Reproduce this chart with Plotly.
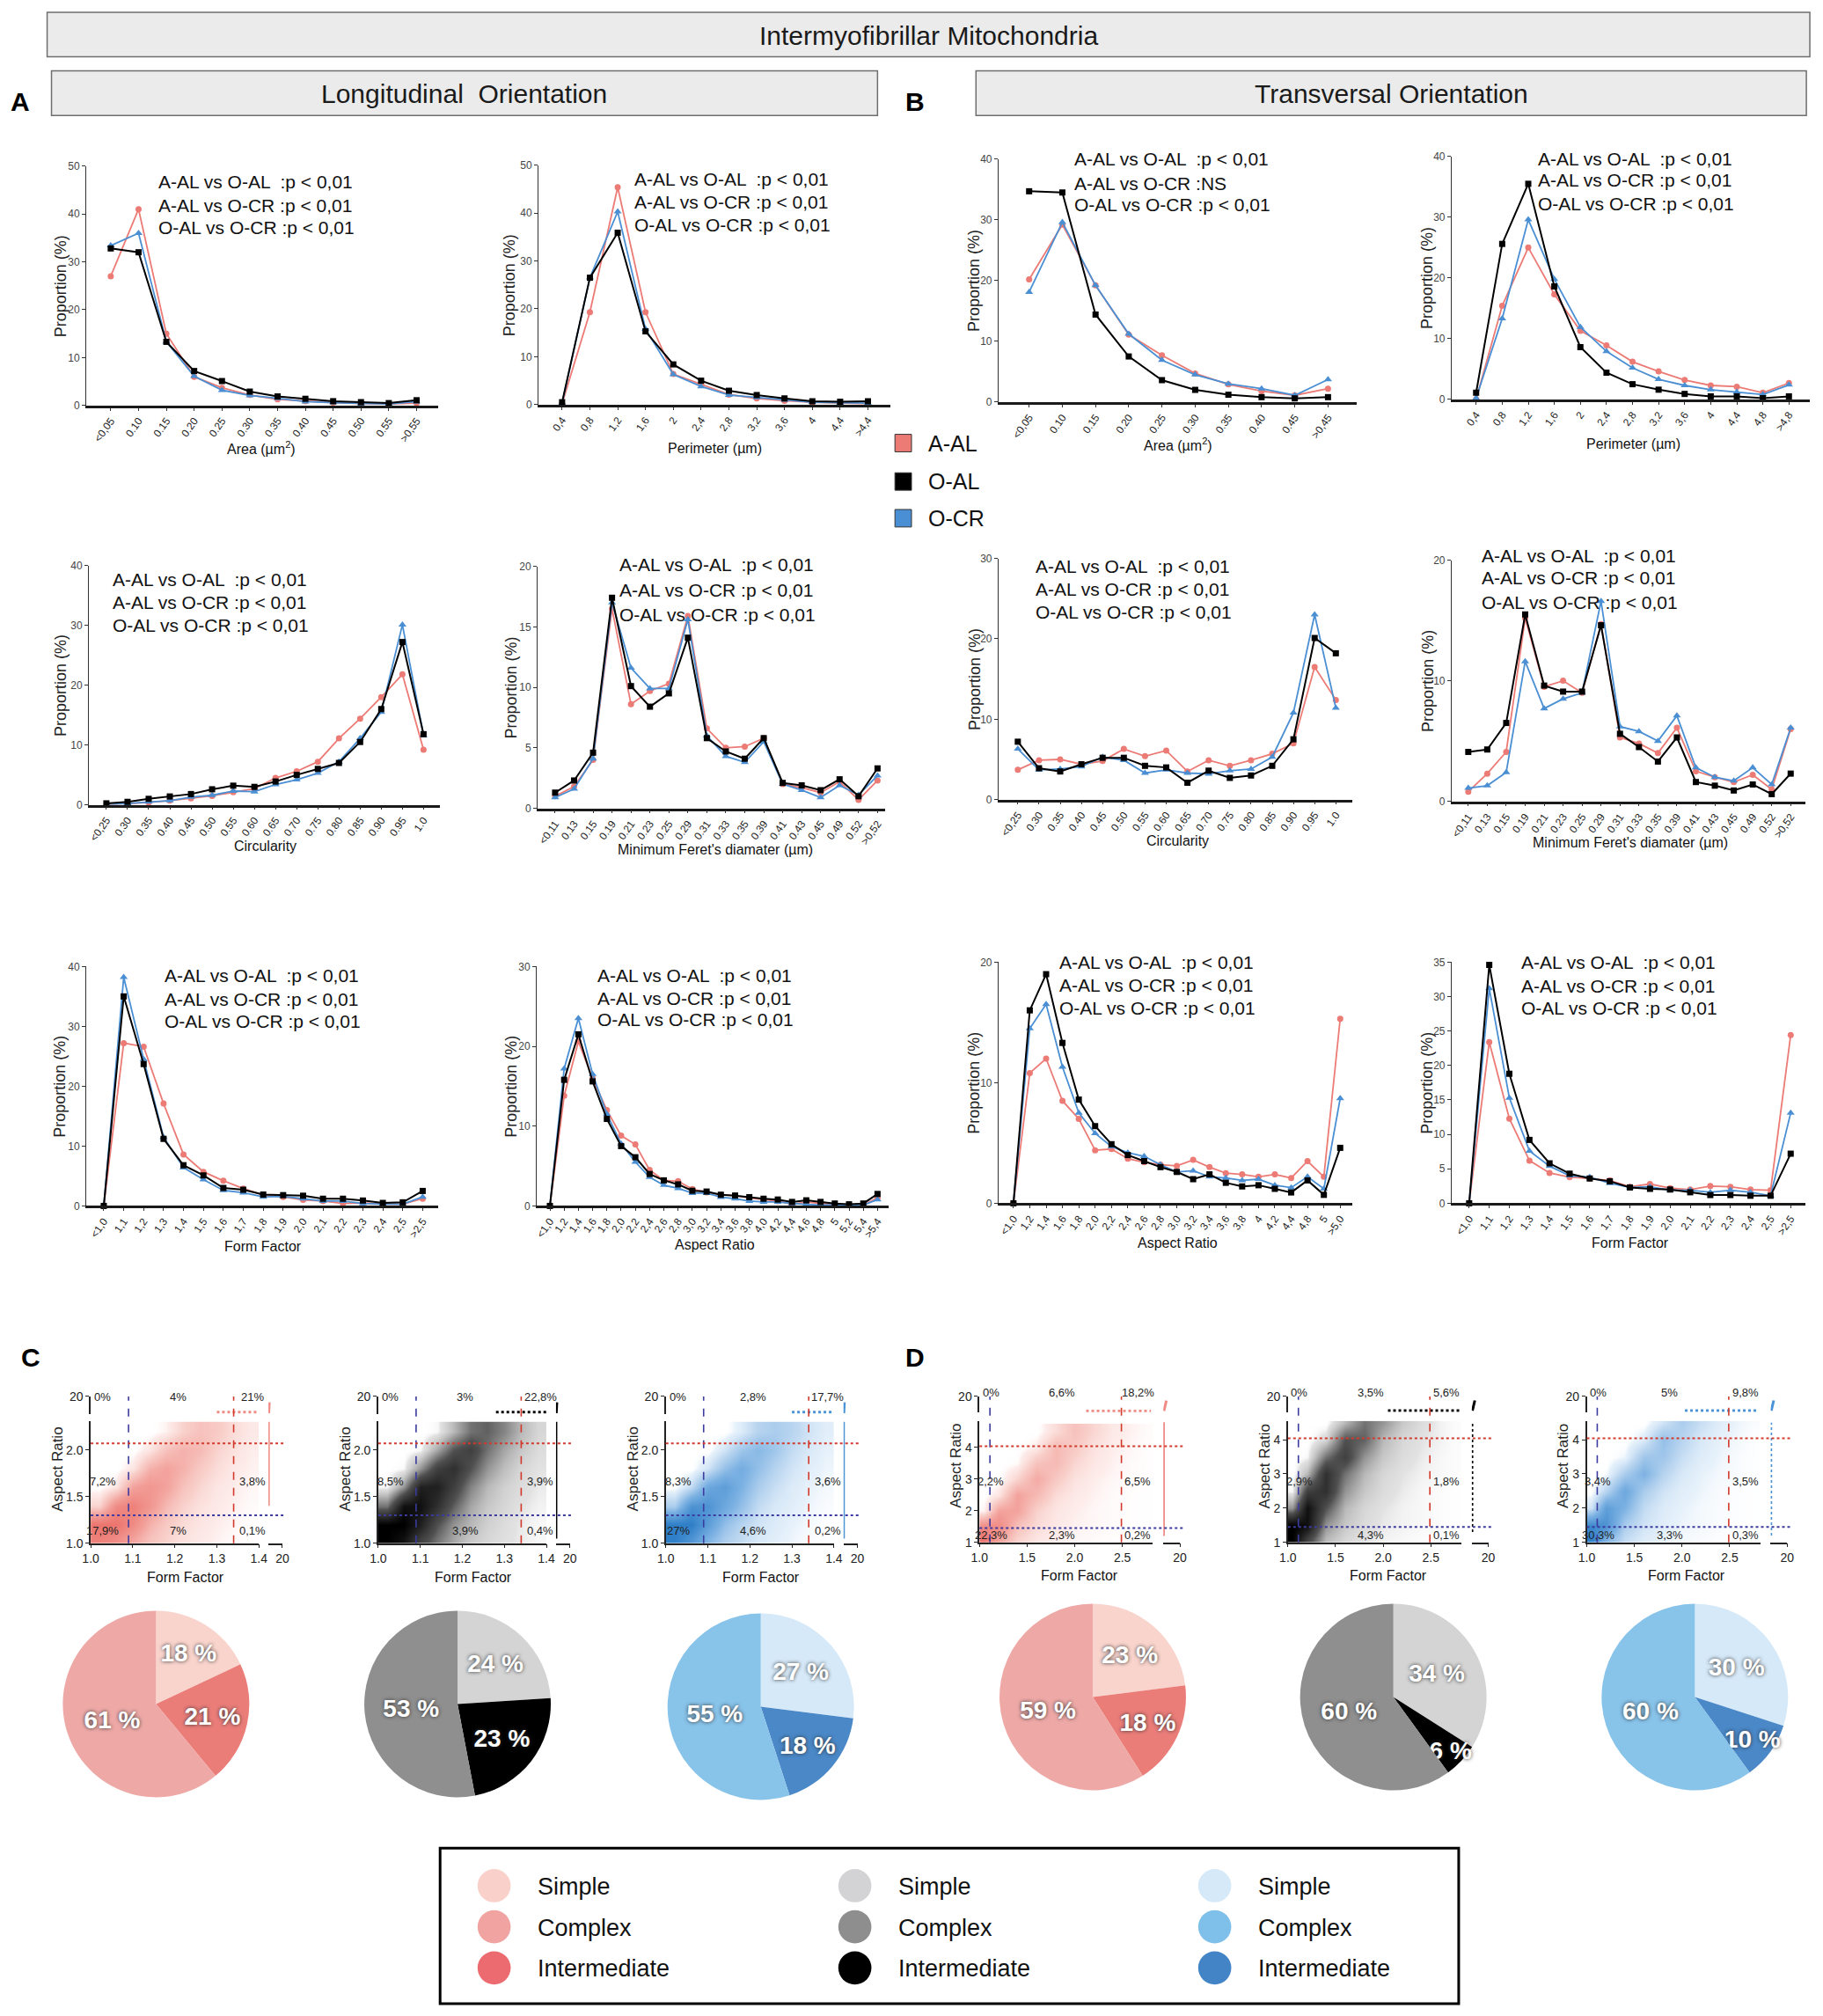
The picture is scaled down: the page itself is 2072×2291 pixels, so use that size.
import plotly.graph_objects as go

W, H = 2072, 2291
FONT = "Liberation Sans, Arial, Helvetica, sans-serif"
RED, BLACK, BLUE = "#ec7a75", "#000000", "#4a8fd3"
GROUPS = ["A-AL", "O-AL", "O-CR"]
COMPARISONS = ["A-AL vs O-AL  :", "A-AL vs O-CR :", "O-AL vs O-CR :"]

# ---------------- distributions (proportion %) ----------------
area_long_cats = ["<0,05", "0.10", "0.15", "0.20", "0.25", "0.30", "0.35", "0.40", "0.45", "0.50", "0.55", ">0,55"]
area_long_aal = [27.0, 41.0, 15.0, 6.0, 3.7, 2.2, 1.3, 0.9, 0.6, 0.4, 0.3, 0.5]
area_long_oal = [32.8, 32.0, 13.3, 7.2, 5.1, 2.9, 1.9, 1.4, 0.9, 0.7, 0.5, 1.1]
area_long_ocr = [33.4, 36.0, 13.3, 6.1, 3.2, 2.1, 1.5, 0.8, 0.6, 0.4, 0.3, 0.8]
area_long_stats = ["p &lt; 0,01", "p &lt; 0,01", "p &lt; 0,01"]

perim_long_cats = ["0,4", "0,8", "1,2", "1,6", "2", "2,4", "2,8", "3,2", "3,6", "4", "4,4", ">4,4"]
perim_long_aal = [0.2, 19.3, 45.4, 19.3, 6.4, 4.3, 2.1, 1.3, 0.8, 0.5, 0.3, 0.2]
perim_long_oal = [0.5, 26.5, 35.9, 15.3, 8.4, 5.0, 2.9, 2.0, 1.3, 0.7, 0.6, 0.7]
perim_long_ocr = [0.3, 26.5, 40.3, 15.8, 6.3, 3.8, 2.0, 1.5, 1.0, 0.5, 0.4, 0.3]
perim_long_stats = ["p &lt; 0,01", "p &lt; 0,01", "p &lt; 0,01"]

area_trans_cats = ["<0,05", "0.10", "0.15", "0.20", "0.25", "0.30", "0.35", "0.40", "0.45", ">0,45"]
area_trans_aal = [20.2, 29.2, 19.2, 11.1, 7.7, 4.7, 2.9, 1.8, 1.1, 2.2]
area_trans_oal = [34.7, 34.5, 14.4, 7.5, 3.6, 2.0, 1.2, 0.8, 0.6, 0.8]
area_trans_ocr = [18.1, 29.6, 19.2, 11.2, 6.9, 4.5, 3.0, 2.2, 1.1, 3.7]
area_trans_stats = ["p &lt; 0,01", "NS", "p &lt; 0,01"]

perim_trans_cats = ["0,4", "0,8", "1,2", "1,6", "2", "2,4", "2,8", "3,2", "3,6", "4", "4,4", "4,8", ">4,8"]
perim_trans_aal = [0.0, 15.4, 25.0, 17.3, 11.3, 8.9, 6.2, 4.6, 3.2, 2.3, 2.1, 1.1, 2.7]
perim_trans_oal = [1.1, 25.6, 35.5, 18.6, 8.6, 4.4, 2.5, 1.6, 0.9, 0.5, 0.5, 0.2, 0.5]
perim_trans_ocr = [0.2, 13.3, 29.6, 19.8, 11.9, 7.9, 5.2, 3.3, 2.3, 1.6, 1.2, 0.8, 2.4]
perim_trans_stats = ["p &lt; 0,01", "p &lt; 0,01", "p &lt; 0,01"]

circ_cats = ["<0,25", "0.30", "0.35", "0.40", "0.45", "0.50", "0.55", "0.60", "0.65", "0.70",
             "0.75", "0.80", "0.85", "0.90", "0.95", "1.0"]
circ_long_aal = [0.0, 0.15, 0.4, 0.7, 1.1, 1.5, 2.1, 2.7, 4.5, 5.6, 7.2, 11.1, 14.4, 18.0, 21.8, 9.2]
circ_long_oal = [0.25, 0.5, 1.0, 1.4, 1.8, 2.6, 3.2, 3.0, 3.9, 5.0, 6.0, 7.0, 10.5, 16.0, 27.2, 11.8]
circ_long_ocr = [0.0, 0.25, 0.5, 0.7, 1.3, 1.6, 2.3, 2.2, 3.4, 4.2, 5.3, 7.2, 11.1, 15.5, 30.1, 11.6]
circ_long_stats = ["p &lt; 0,01", "p &lt; 0,01", "p &lt; 0,01"]

circ_trans_aal = [3.7, 4.9, 5.0, 4.4, 4.8, 6.3, 5.4, 6.1, 3.5, 4.9, 4.2, 4.9, 5.7, 7.0, 16.5, 12.4]
circ_trans_oal = [7.2, 3.9, 3.5, 4.4, 5.2, 5.2, 4.2, 4.0, 2.1, 3.6, 2.7, 3.0, 4.2, 7.5, 20.1, 18.2]
circ_trans_ocr = [6.3, 3.7, 3.8, 4.1, 5.3, 4.9, 3.3, 3.7, 3.3, 3.2, 3.6, 3.8, 5.3, 10.8, 23.0, 11.4]
circ_trans_stats = ["p &lt; 0,01", "p &lt; 0,01", "p &lt; 0,01"]

feret_cats = ["<0,11", "0.13", "0.15", "0.19", "0.21", "0.23", "0.25", "0.29", "0.31", "0.33",
              "0.35", "0.39", "0.41", "0.43", "0.45", "0.49", "0.52", ">0,52"]
feret_long_aal = [1.0, 1.8, 4.0, 16.5, 8.6, 9.7, 10.3, 15.9, 6.6, 5.0, 5.1, 5.8, 2.0, 1.7, 1.3, 2.2, 0.7, 2.3]
feret_long_oal = [1.3, 2.3, 4.6, 17.4, 10.1, 8.4, 9.5, 14.1, 5.8, 4.7, 4.1, 5.8, 2.1, 1.9, 1.5, 2.4, 1.0, 3.3]
feret_long_ocr = [0.9, 1.6, 4.1, 17.0, 11.6, 9.9, 9.9, 15.6, 6.0, 4.3, 3.8, 5.5, 2.0, 1.5, 0.9, 1.9, 1.1, 2.7]
feret_long_stats = ["p &lt; 0,01", "p &lt; 0,01", "p &lt; 0,01"]

feret_trans_aal = [0.8, 2.3, 4.1, 15.2, 9.5, 10.0, 9.0, 14.7, 5.3, 4.8, 4.0, 6.1, 2.5, 2.0, 1.6, 2.2, 1.0, 6.0]
feret_trans_oal = [4.1, 4.3, 6.5, 15.5, 9.6, 9.1, 9.1, 14.6, 5.6, 4.5, 3.3, 5.3, 1.6, 1.3, 0.9, 1.4, 0.6, 2.3]
feret_trans_ocr = [1.1, 1.3, 2.4, 11.6, 7.7, 8.5, 9.0, 16.6, 6.2, 5.8, 5.0, 7.1, 2.8, 2.0, 1.7, 2.8, 1.4, 6.1]
feret_trans_stats = ["p &lt; 0,01", "p &lt; 0,01", "p &lt; 0,01"]

ff_cats = ["<1,0", "1,1", "1,2", "1,3", "1,4", "1,5", "1,6", "1,7", "1,8", "1,9", "2,0", "2,1",
           "2,2", "2,3", "2,4", "2,5", ">2,5"]
ff_long_aal = [0, 27.2, 26.6, 17.1, 8.6, 5.7, 4.2, 2.9, 1.8, 1.5, 1.0, 0.8, 0.4, 0.5, 0.3, 0.3, 1.2]
ff_long_oal = [0, 35.0, 23.7, 11.2, 6.8, 5.1, 3.0, 2.7, 1.9, 1.8, 1.7, 1.2, 1.2, 0.9, 0.5, 0.6, 2.5]
ff_long_ocr = [0, 38.2, 24.5, 11.5, 6.4, 4.4, 2.6, 2.2, 1.5, 1.6, 1.2, 0.8, 0.8, 0.4, 0.3, 0.3, 1.5]
ff_long_stats = ["p &lt; 0,01", "p &lt; 0,01", "p &lt; 0,01"]

ff_trans_aal = [0, 23.4, 12.3, 6.2, 4.4, 3.8, 3.6, 3.3, 2.4, 2.8, 2.2, 2.0, 2.5, 2.4, 2.0, 1.9, 24.4]
ff_trans_oal = [0, 34.6, 18.8, 9.2, 5.8, 4.3, 3.6, 3.2, 2.3, 2.1, 2.0, 1.6, 1.2, 1.2, 1.1, 1.1, 7.2]
ff_trans_ocr = [0, 31.2, 15.3, 7.6, 5.4, 4.0, 3.8, 2.9, 2.3, 2.4, 1.9, 1.9, 1.6, 1.9, 1.6, 1.1, 13.1]
ff_trans_stats = ["p &lt; 0,01", "p &lt; 0,01", "p &lt; 0,01"]

ar_long_cats = ["<1,0", "1,2", "1,4", "1,6", "1,8", "2,0", "2,2", "2,4", "2,6", "2,8", "3,0", "3,2",
                "3,4", "3,6", "3,8", "4,0", "4,2", "4,4", "4,6", "4,8", "5", "5,2", "5,4", ">5,4"]
ar_long_aal = [0, 13.8, 20.6, 16.0, 12.0, 8.8, 7.7, 4.5, 3.2, 3.1, 2.1, 1.7, 1.4, 1.3, 1.0, 0.8,
               0.6, 0.2, 0.5, 0.3, 0.2, 0.1, 0.1, 1.0]
ar_long_oal = [0, 15.8, 21.5, 15.6, 10.9, 7.5, 6.1, 4.0, 3.2, 2.7, 1.9, 1.8, 1.4, 1.3, 1.1, 0.9,
               0.8, 0.5, 0.7, 0.5, 0.3, 0.2, 0.3, 1.5]
ar_long_ocr = [0, 17.2, 23.5, 16.5, 11.5, 7.8, 5.5, 3.6, 2.6, 2.2, 1.6, 1.6, 1.1, 0.9, 0.6, 0.5,
               0.5, 0.3, 0.2, 0.1, 0.1, 0.1, 0.1, 0.8]
ar_long_stats = ["p &lt; 0,01", "p &lt; 0,01", "p &lt; 0,01"]

ar_trans_cats = ["<1,0", "1,2", "1,4", "1,6", "1,8", "2,0", "2,2", "2,4", "2,6", "2,8", "3,0",
                 "3,2", "3,4", "3,6", "3,8", "4", "4,2", "4,4", "4,8", "5", ">5,0"]
ar_trans_aal = [0, 10.8, 12.0, 8.5, 7.0, 4.4, 4.5, 3.7, 3.4, 3.2, 3.1, 3.6, 3.0, 2.5, 2.4, 2.2,
                2.4, 2.1, 3.5, 2.2, 15.3]
ar_trans_oal = [0, 16.0, 19.0, 13.3, 8.6, 6.4, 4.9, 4.0, 3.5, 3.0, 2.6, 2.0, 2.4, 1.7, 1.4, 1.5,
                1.2, 0.9, 1.9, 0.7, 4.6]
ar_trans_ocr = [0, 14.5, 16.5, 11.3, 7.5, 5.8, 4.7, 4.2, 3.9, 3.2, 2.6, 2.7, 2.2, 2.1, 1.9, 2.0,
                1.5, 1.3, 2.2, 1.2, 8.7]
ar_trans_stats = ["p &lt; 0,01", "p &lt; 0,01", "p &lt; 0,01"]

c_ff_centers = [1.02, 1.06, 1.10, 1.14, 1.18, 1.22, 1.26, 1.30, 1.34, 1.38]
c_ar_centers = [1.05, 1.2, 1.4, 1.6, 1.8, 2.0, 2.2]
c_aal_density = [
    [8, 7, 5, 3, 2, 1.2, 0.8, 0.5, 0.3, 0.2],
    [9, 9, 7, 4, 2.5, 1.5, 1, 0.6, 0.4, 0.2],
    [2, 7, 8, 6, 3.5, 2, 1.2, 0.8, 0.5, 0.3],
    [0, 1, 5, 6, 5, 3, 1.8, 1, 0.6, 0.4],
    [0, 0, 1, 4, 5, 4, 2.5, 1.5, 0.8, 0.5],
    [0, 0, 0, 1, 3, 4, 3.5, 2, 1.2, 0.6],
    [0, 0, 0, 0, 0.5, 2, 3, 2.5, 1.5, 0.8],
]
c_oal_density = [
    [10, 9, 6, 4, 2.5, 1.5, 1, 0.7, 0.5, 0.3],
    [10, 10, 8, 5, 3, 2, 1.2, 0.8, 0.5, 0.3],
    [4, 9, 9, 7, 4.5, 2.5, 1.5, 1, 0.6, 0.4],
    [0.3, 3, 8, 8, 6, 3.5, 2, 1.2, 0.8, 0.5],
    [0, 0.3, 3, 6, 7, 5, 3, 1.8, 1, 0.6],
    [0, 0, 0.3, 2.5, 5, 6, 4, 2.5, 1.5, 0.8],
    [0, 0, 0, 0.3, 2, 4, 4.5, 3.5, 2, 1],
]
c_ocr_density = [
    [10, 8, 5, 3, 2, 1.2, 0.8, 0.5, 0.3, 0.2],
    [10, 10, 7, 4, 2.5, 1.5, 1, 0.6, 0.4, 0.2],
    [3, 8, 8, 6, 4, 2, 1.2, 0.8, 0.5, 0.3],
    [0, 2, 6, 7, 5, 3, 1.8, 1, 0.6, 0.4],
    [0, 0, 1.5, 4, 5.5, 4, 2.5, 1.5, 0.8, 0.5],
    [0, 0, 0, 1.5, 3.5, 4.5, 3.5, 2, 1.2, 0.6],
    [0, 0, 0, 0, 1, 2.5, 3, 2.5, 1.5, 0.8],
]
d_ff_centers = [1.05, 1.2, 1.4, 1.6, 1.8, 2.0, 2.2, 2.4, 2.6, 2.75]
d_ar_centers = [1.1, 1.5, 2.0, 2.5, 3.0, 3.5, 4.0, 4.5]
d_aal_density = [
    [9, 5, 2, 1, 0.6, 0.4, 0.3, 0.2, 0.2, 0.1],
    [7, 7, 3, 1.5, 0.8, 0.5, 0.4, 0.3, 0.2, 0.1],
    [0.5, 5, 5, 2, 1, 0.6, 0.4, 0.3, 0.2, 0.1],
    [0, 1, 5, 3.5, 1.5, 0.8, 0.5, 0.3, 0.2, 0.1],
    [0, 0, 2, 4.5, 2.5, 1.2, 0.6, 0.4, 0.3, 0.2],
    [0, 0, 0.3, 3, 3.5, 1.8, 0.9, 0.5, 0.3, 0.2],
    [0, 0, 0, 0.8, 3.5, 2.5, 1.2, 0.6, 0.4, 0.2],
    [0, 0, 0, 0, 1.5, 3, 1.8, 0.8, 0.5, 0.3],
]
d_oal_density = [
    [10, 6, 2, 1, 0.6, 0.4, 0.3, 0.2, 0.2, 0.1],
    [10, 9, 3, 1.5, 0.8, 0.5, 0.4, 0.3, 0.2, 0.1],
    [3, 9, 5, 2, 1, 0.6, 0.4, 0.3, 0.2, 0.1],
    [0.3, 6, 7, 3, 1.5, 0.8, 0.5, 0.3, 0.2, 0.1],
    [0, 2, 7, 4, 2, 1, 0.6, 0.4, 0.3, 0.2],
    [0, 0.3, 4, 6, 3, 1.5, 0.8, 0.5, 0.3, 0.2],
    [0, 0, 1, 5, 4.5, 2, 1, 0.6, 0.4, 0.2],
    [0, 0, 0, 2, 4, 3, 1.5, 0.8, 0.4, 0.2],
]
d_ocr_density = [
    [10, 5, 2, 1, 0.6, 0.4, 0.3, 0.2, 0.2, 0.1],
    [9, 8, 3, 1.5, 0.8, 0.5, 0.4, 0.3, 0.2, 0.1],
    [1.5, 7, 5, 2, 1, 0.6, 0.4, 0.3, 0.2, 0.1],
    [0, 2.5, 6, 3, 1.5, 0.8, 0.5, 0.3, 0.2, 0.1],
    [0, 0.3, 3, 5, 2.5, 1.2, 0.6, 0.4, 0.3, 0.2],
    [0, 0, 0.5, 3.5, 3.5, 1.8, 0.9, 0.5, 0.3, 0.2],
    [0, 0, 0, 1, 4, 2.5, 1.2, 0.6, 0.4, 0.2],
    [0, 0, 0, 0, 1.5, 3, 1.8, 0.8, 0.5, 0.3],
]
# points beyond the axis breaks: top row (FF span, AR), right column (FF, AR span), corner
c_top_ff = [[1.30, 1.40], [1.28, 1.40], [1.30, 1.40]]
c_top_ar = 4.0
c_col_ff = 2.0
c_col_ar = [[1.4, 2.3], [1.05, 2.3], [1.05, 2.3]]
c_corner_ff = [1.8, 2.6]
c_corner_ar = [3.0, 14.0]
d_top_ff = [[2.12, 2.80], [2.05, 2.80], [2.03, 2.80]]
d_top_ar = 6.0
d_col_ff = 3.5
d_col_ar = [[1.2, 4.8], [1.3, 4.5], [1.2, 4.5]]
d_corner_ff = [3.5, 6.0]
d_corner_ar = [6.0, 16.0]
c_ff_thresholds = [1.09, 1.34]
c_ar_thresholds = [1.30, 2.07]
d_ff_thresholds = [1.11, 2.49]
d_ar_thresholds = [1.45, 4.04]
d_ar_top = [4.84, 4.55, 4.55]

# quadrant percentages: top L/M/R, middle L/R, bottom L/M/R
c_aal_pct = ["0%", "4%", "21%", "7,2%", "3,8%", "17,9%", "7%", "0,1%"]
c_oal_pct = ["0%", "3%", "22,8%", "8,5%", "3,9%", "", "3,9%", "0,4%"]
c_ocr_pct = ["0%", "2,8%", "17,7%", "8,3%", "3,6%", "27%", "4,6%", "0,2%"]
d_aal_pct = ["0%", "6,6%", "18,2%", "2,2%", "6,5%", "22,3%", "2,3%", "0,2%"]
d_oal_pct = ["0%", "3,5%", "5,6%", "2,9%", "1,8%", "", "4,3%", "0,1%"]
d_ocr_pct = ["0%", "5%", "9,8%", "3,4%", "3,5%", "30,3%", "3,3%", "0,3%"]

# ---------------- mitochondrial shape shares (%) ----------------
pie_labels = ["Simple", "Intermediate", "Complex"]
pie_c_aal = [18, 21, 61]
pie_c_oal = [24, 23, 53]
pie_c_ocr = [27, 18, 55]
pie_d_aal = [23, 18, 59]
pie_d_oal = [34, 6, 60]
pie_d_ocr = [30, 10, 60]

PIE_RED = ["#f9d4cd", "#eb7d79", "#eea9a7"]
PIE_GRAY = ["#d4d4d4", "#000000", "#8f8f8f"]
PIE_BLUE = ["#d6e9f8", "#4a88c8", "#88c3ea"]

fig = go.Figure()
axes = {}
annotations = []
shapes = []
count = {"x": 0, "y": 0}


def new_axis(letter, **props):
    count[letter] += 1
    k = count[letter]
    name = letter + ("" if k == 1 else str(k))
    axes[letter + "axis" + name[1:]] = props
    return name


def key(name):
    return name[0] + "axis" + name[1:]


def px(x):
    return x / W


def py(y):
    return 1 - y / H


def text(x, y, s, size, anchor="center", angle=0, color="#111111", yanchor="middle"):
    annotations.append(dict(x=px(x), y=py(y), xref="paper", yref="paper", text=s,
                            showarrow=False, xanchor=anchor, yanchor=yanchor, textangle=angle,
                            font=dict(family=FONT, size=size, color=color)))


def line_chart(box, cats, aal, oal, ocr, stats, stat_x, stat_ys, xtitle, xt_x, xt_y, yt_x):
    yx, first, last, end, ytop, ybot, ymax, dtick = box
    n = len(cats)
    step = (last - first) / (n - 1)
    xa = new_axis("x", domain=[px(yx), px(end)], type="category",
                  range=[-(first - yx) / step, n - 1 + (end - last) / step],
                  tickmode="array", tickvals=cats, ticktext=cats, tickangle=-55,
                  showline=True, linecolor="#1a1a1a", linewidth=2.5, ticks="outside",
                  ticklen=3, tickcolor="#333", showgrid=False, zeroline=False,
                  tickfont=dict(family=FONT, size=12, color="#222"))
    ya = new_axis("y", domain=[py(ybot), py(ytop)], range=[0, ymax], dtick=dtick,
                  showline=True, linecolor="#333", linewidth=1.2, ticks="outside",
                  ticklen=4, tickcolor="#333", showgrid=False, zeroline=False,
                  tickfont=dict(family=FONT, size=12, color="#444"))
    axes[key(xa)]["anchor"] = ya
    axes[key(ya)]["anchor"] = xa
    for vals, color, symbol, size, width in [(aal, RED, "circle", 7, 1.8),
                                              (ocr, BLUE, "triangle-up", 8, 1.8),
                                              (oal, BLACK, "square", 7, 2.0)]:
        fig.add_trace(go.Scatter(x=cats, y=vals, xaxis=xa, yaxis=ya, mode="lines+markers",
                                 line=dict(color=color, width=width),
                                 marker=dict(symbol=symbol, size=size, color=color),
                                 cliponaxis=False, showlegend=False, hoverinfo="skip"))
    for comp, st, sy in zip(COMPARISONS, stats, stat_ys):
        text(stat_x, sy, comp + st, 21, anchor="left")
    text(xt_x, xt_y, xtitle, 16)
    text(yt_x, (ytop + ybot) / 2, "Proportion (%)", 18, angle=-90, color="#222")


charts = [
    ((89, 117, 468, 493, 182, 456, 50, 10), area_long_cats, area_long_aal, area_long_oal, area_long_ocr,
     area_long_stats, 170, [200, 227, 252], "Area (µm<sup>2</sup>)", 290, 505, 59),
    ((608, 635, 986, 1012, 181, 455, 50, 10), perim_long_cats, perim_long_aal, perim_long_oal, perim_long_ocr,
     perim_long_stats, 716, [197, 223, 249], "Perimeter (µm)", 810, 505, 574),
    ((1136, 1171, 1514, 1547, 174, 452, 40, 10), area_trans_cats, area_trans_aal, area_trans_oal, area_trans_ocr,
     area_trans_stats, 1221, [174, 202, 226], "Area (µm<sup>2</sup>)", 1342, 500, 1108),
    ((1656, 1684, 2043, 2067, 171, 449, 40, 10), perim_trans_cats, perim_trans_aal, perim_trans_oal,
     perim_trans_ocr, perim_trans_stats, 1753, [174, 198, 225], "Perimeter (µm)", 1864, 500, 1628),
    ((92, 112, 476, 495, 639, 913, 40, 10), circ_cats, circ_long_aal, circ_long_oal, circ_long_ocr,
     circ_long_stats, 117, [655, 681, 707], "Circularity", 294, 960, 59),
    ((607, 627, 997, 1006, 640, 917, 20, 5), feret_cats, feret_long_aal, feret_long_oal, feret_long_ocr,
     feret_long_stats, 699, [638, 667, 695], "Minimum Feret's diamater (µm)", 811, 964, 577),
    ((1136, 1158, 1523, 1542, 631, 907, 30, 10), circ_cats, circ_trans_aal, circ_trans_oal, circ_trans_ocr,
     circ_trans_stats, 1176, [640, 666, 692], "Circularity", 1341, 954, 1108),
    ((1656, 1675, 2045, 2062, 633, 909, 20, 10), feret_cats, feret_trans_aal, feret_trans_oal, feret_trans_ocr,
     feret_trans_stats, 1688, [628, 653, 681], "Minimum Feret's diamater (µm)", 1861, 956, 1628),
    ((89, 109, 475, 493, 1098, 1372, 40, 10), ff_cats, ff_long_aal, ff_long_oal, ff_long_ocr,
     ff_long_stats, 177, [1108, 1135, 1161], "Form Factor", 292, 1418, 59),
    ((606, 621, 997, 1010, 1098, 1372, 30, 10), ar_long_cats, ar_long_aal, ar_long_oal, ar_long_ocr,
     ar_long_stats, 673, [1108, 1134, 1159], "Aspect Ratio", 810, 1416, 577),
    ((1136, 1153, 1528, 1542, 1093, 1369, 20, 10), ar_trans_cats, ar_trans_aal, ar_trans_oal, ar_trans_ocr,
     ar_trans_stats, 1204, [1093, 1119, 1145], "Aspect Ratio", 1341, 1414, 1108),
    ((1656, 1676, 2045, 2062, 1093, 1369, 35, 5), ff_cats, ff_trans_aal, ff_trans_oal, ff_trans_ocr,
     ff_trans_stats, 1734, [1093, 1120, 1145], "Form Factor", 1861, 1414, 1628),
]
for c in charts:
    line_chart(*c)

# ---------------- scatter panels with broken axes ----------------
C_GEO = dict(xa_w=193, xb=(204, 220), ya=(1758, 1618), yb=(1610, 1590), xr=[1.0, 1.4],
             xticks=[1.0, 1.1, 1.2, 1.3, 1.4], yticks=[1.0, 1.5, 2.0], yfmt=".1f",
             lab_dx=[14, 100, 186], lab_y=[1591, 1687, 1744], xt=(109, 1797), yt=(-38, 1673))
D_GEO = dict(xa_w=199, xb=(211, 230), ya=(1757, 1618), yb=(1608, 1590), xr=[1.0, 2.82],
             xticks=[1.0, 1.5, 2.0, 2.5], yticks=[1, 2, 3, 4], yfmt="d",
             lab_dx=[13, 95, 182], lab_y=[1586, 1687, 1749], xt=(115, 1795), yt=(-27, 1670))

AX = dict(showline=True, linecolor="#222", linewidth=1.5, ticks="outside", ticklen=4,
          tickcolor="#222", showgrid=False, zeroline=False,
          tickfont=dict(family=FONT, size=14, color="#222"))


def scatter_panel(x0, geo, y_top, cx, cy, dens, cscale, color, top_ff, top_ar, col_ff, col_ar,
                  corner_ff, corner_ar, ff_thr, ar_thr, pct, col_dash):
    xa = new_axis("x", domain=[px(x0), px(x0 + geo["xa_w"])], range=geo["xr"],
                  tickvals=geo["xticks"], tickformat=".1f", **AX)
    xb = new_axis("x", domain=[px(x0 + geo["xb"][0]), px(x0 + geo["xb"][1])],
                  range=[geo["xr"][1], 20], tickvals=[20], **AX)
    ya = new_axis("y", domain=[py(geo["ya"][0]), py(geo["ya"][1])], range=[1.0, y_top],
                  tickvals=geo["yticks"], tickformat=geo["yfmt"], **AX)
    yb = new_axis("y", domain=[py(geo["yb"][0]), py(geo["yb"][1])], range=[y_top, 20],
                  tickvals=[20], **AX)
    axes[key(xa)]["anchor"] = ya
    axes[key(xb)]["anchor"] = ya
    axes[key(ya)]["anchor"] = xa
    axes[key(yb)]["anchor"] = xa
    fig.add_trace(go.Heatmap(x=cx, y=cy, z=dens, xaxis=xa, yaxis=ya, zsmooth="best",
                             colorscale=cscale, zmin=0, zmax=10, showscale=False,
                             hoverinfo="skip"))
    fig.add_trace(go.Scatter(x=top_ff, y=[top_ar, top_ar], xaxis=xa, yaxis=yb, mode="lines",
                             line=dict(color=color, width=3, dash="dot"), showlegend=False,
                             hoverinfo="skip", cliponaxis=False))
    fig.add_trace(go.Scatter(x=[col_ff, col_ff], y=col_ar, xaxis=xb, yaxis=ya, mode="lines",
                             line=dict(color=color, width=2, dash=col_dash), showlegend=False,
                             hoverinfo="skip", cliponaxis=False))
    fig.add_trace(go.Scatter(x=corner_ff, y=corner_ar, xaxis=xb, yaxis=yb, mode="lines",
                             line=dict(color=color, width=3), showlegend=False,
                             hoverinfo="skip", cliponaxis=False))
    y_lo, y_hi = py(geo["ya"][0]), py(geo["yb"][1])
    for thr, col in [(ff_thr[0], "#3b3ba0"), (ff_thr[1], "#d23a2c")]:
        shapes.append(dict(type="line", xref=xa, yref="paper", x0=thr, x1=thr, y0=y_lo, y1=y_hi,
                           line=dict(color=col, width=1.6, dash="dash")))
    for thr, col in [(ar_thr[0], "#3b3ba0"), (ar_thr[1], "#d23a2c")]:
        shapes.append(dict(type="line", xref="paper", yref=ya, x0=px(x0), x1=px(x0 + geo["xb"][1] + 4),
                           y0=thr, y1=thr, line=dict(color=col, width=2, dash="dot")))
    dx, ly = geo["lab_dx"], geo["lab_y"]
    spots = [(dx[0], ly[0]), (dx[1], ly[0]), (dx[2], ly[0]), (dx[0], ly[1]), (dx[2], ly[1]),
             (dx[0], ly[2]), (dx[1], ly[2]), (dx[2], ly[2])]
    for s, (ox, oy) in zip(pct, spots):
        if s:
            text(x0 + ox, oy, s, 13, color="#222")
    text(x0 + geo["xt"][0], geo["xt"][1], "Form Factor", 16)
    text(x0 + geo["yt"][0], geo["yt"][1], "Aspect Ratio", 17, angle=-90, color="#222")


RED_SCALE = [[0, "rgba(255,255,255,0)"], [0.06, "rgba(250,214,210,0.45)"], [0.2, "#f9d2cd"],
             [0.5, "#f3a29c"], [1, "#ea6a63"]]
GRAY_SCALE = [[0, "rgba(255,255,255,0)"], [0.06, "rgba(190,190,190,0.45)"], [0.2, "#b8b8b8"],
              [0.5, "#505050"], [1, "#000000"]]
BLUE_SCALE = [[0, "rgba(255,255,255,0)"], [0.06, "rgba(200,224,245,0.45)"], [0.2, "#c3dbf2"],
              [0.5, "#7db2e3"], [1, "#2f7fc8"]]

c_sets = [(94, c_aal_density, RED_SCALE, "#ef8a85", c_aal_pct, "solid"),
          (424, c_oal_density, GRAY_SCALE, "#000000", c_oal_pct, "solid"),
          (754, c_ocr_density, BLUE_SCALE, "#4a93d6", c_ocr_pct, "solid")]
for i, (x0, dens, cs, col, pct, cd) in enumerate(c_sets):
    scatter_panel(x0, C_GEO, 2.31, c_ff_centers, c_ar_centers, dens, cs, col, c_top_ff[i], c_top_ar,
                  c_col_ff, c_col_ar[i], c_corner_ff, c_corner_ar, c_ff_thresholds,
                  c_ar_thresholds, pct, cd)

d_sets = [(1114, d_aal_density, RED_SCALE, "#ef8a85", d_aal_pct, "solid"),
          (1468, d_oal_density, GRAY_SCALE, "#000000", d_oal_pct, "dot"),
          (1811, d_ocr_density, BLUE_SCALE, "#4a93d6", d_ocr_pct, "dot")]
for i, (x0, dens, cs, col, pct, cd) in enumerate(d_sets):
    scatter_panel(x0, D_GEO, d_ar_top[i], d_ff_centers, d_ar_centers, dens, cs, col, d_top_ff[i],
                  d_top_ar, d_col_ff, d_col_ar[i], d_corner_ff, d_corner_ar, d_ff_thresholds,
                  d_ar_thresholds, pct, cd)

# ---------------- pies ----------------
pies = [(pie_c_aal, PIE_RED, 169, 1942), (pie_c_oal, PIE_GRAY, 515, 1942),
        (pie_c_ocr, PIE_BLUE, 863, 1945), (pie_d_aal, PIE_RED, 1244, 1934),
        (pie_d_oal, PIE_GRAY, 1589, 1934), (pie_d_ocr, PIE_BLUE, 1935, 1934)]
R = 107
for vals, cols, cx, cy in pies:
    fig.add_trace(go.Pie(labels=pie_labels, values=vals, sort=False, direction="clockwise",
                         rotation=0, marker=dict(colors=cols, line=dict(width=0)),
                         domain=dict(x=[px(cx - R), px(cx + R)], y=[py(cy + R), py(cy - R)]),
                         texttemplate="<b>%{value} %</b>", textposition="inside",
                         insidetextorientation="horizontal",
                         textfont=dict(family=FONT, size=28, color="white",
                                       shadow="0px 0px 4px #333"),
                         showlegend=False, hoverinfo="skip"))

# ---------------- headers, panel letters, legends ----------------
for (x0, y0, x1, y1, label, size) in [(44, 6, 2067, 57, "Intermyofibrillar Mitochondria", 30),
                                      (49, 73, 997, 124, "Longitudinal  Orientation", 30),
                                      (1110, 73, 2063, 124, "Transversal Orientation", 30)]:
    shapes.append(dict(type="rect", xref="paper", yref="paper", x0=px(x0), x1=px(x1),
                       y0=py(y1), y1=py(y0), fillcolor="#ebebeb",
                       line=dict(color="#6e6e6e", width=1.5), layer="below"))
    text((x0 + x1) / 2, (y0 + y1) / 2 + 1, label, size, color="#1a1a1a")

for letter, x, y in [("A", 13, 108), ("B", 1040, 108), ("C", 25, 1545), ("D", 1040, 1545)]:
    text(x, y, "<b>" + letter + "</b>", 30, color="#000")

for name, col, y in zip(GROUPS, [RED, BLACK, BLUE], [499, 543, 585]):
    shapes.append(dict(type="rect", xref="paper", yref="paper", x0=px(1017), x1=px(1036),
                       y0=py(y + 10), y1=py(y - 10), fillcolor=col, line=dict(color="#333", width=1)))
    text(1053, y, name, 25, anchor="left")

shapes.append(dict(type="rect", xref="paper", yref="paper", x0=px(495), x1=px(1664),
                   y0=py(2285), y1=py(2107), line=dict(color="#000", width=3)))
legend_colors = [["#f9d0ca", "#f0a3a1", "#ec6b70"],
                 ["#d3d3d6", "#8e8e8e", "#000000"],
                 ["#d5e9f8", "#7fc0ea", "#4384c6"]]
legend_names = ["Simple", "Complex", "Intermediate"]
for cx, cols in zip([557, 971, 1384], legend_colors):
    for name, col, cy in zip(legend_names, cols, [2150, 2197, 2244]):
        shapes.append(dict(type="circle", xref="paper", yref="paper", x0=px(cx - 19),
                           x1=px(cx + 19), y0=py(cy + 19), y1=py(cy - 19), fillcolor=col,
                           line=dict(width=0)))
        text(cx + 48, cy + 1, name, 27, anchor="left")

fig.update_layout(width=W, height=H, margin=dict(l=0, r=0, t=0, b=0), autosize=False,
                  paper_bgcolor="white", plot_bgcolor="rgba(0,0,0,0)", showlegend=False,
                  annotations=annotations, shapes=shapes,
                  uniformtext=dict(mode="show", minsize=28), **axes)
fig.write_html("out.html", config={"displayModeBar": False},
               post_script="document.body.style.margin='0';document.body.style.overflow='hidden';")
